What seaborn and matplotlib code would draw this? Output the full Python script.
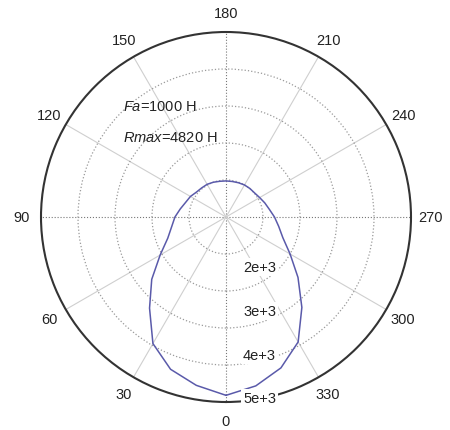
import numpy as np
import pandas as pd
import matplotlib
matplotlib.use("Agg")
import matplotlib.pyplot as plt
import seaborn as sns

# ---- data ----
angles_deg = [0, 10, 20, 30, 40, 50, 60, 70, 80, 90, 100, 110, 120, 130, 140, 150, 160, 170,
              180, 190, 200, 210, 220, 230, 240, 250, 260, 270, 280, 290, 300, 310, 320, 330,
              340, 350, 360]
radius = [4820, 4620, 4380, 3950, 3215, 2620, 2055, 1675, 1490, 1380, 1255, 1160, 1110, 1045,
          1025, 1020, 1000, 980, 975, 975, 985, 1000, 1005, 1010, 1050, 1115, 1190, 1310,
          1445, 1635, 2000, 2540, 3190, 3900, 4340, 4635, 4820]
theta_ticks = [0, 30, 60, 90, 120, 150, 180, 210, 240, 270, 300, 330]
r_ticks = [1000, 2000, 3000, 4000]
r_max = 5000
r_labels = ["2e+3", "3e+3", "4e+3", "5e+3"]
note_fa = r"$\mathit{Fa}$=1000 H"
note_rmax = r"$\mathit{Rmax}$=4820 H"

sns.set_theme(style="white")
plt.rcParams["font.family"] = ["Liberation Sans", "DejaVu Sans"]
plt.rcParams["mathtext.fontset"] = "custom"
plt.rcParams["mathtext.rm"] = "Liberation Sans"
plt.rcParams["mathtext.it"] = "Liberation Sans:italic"

df = pd.DataFrame({"theta": np.deg2rad(angles_deg), "r": radius})

fig = plt.figure(figsize=(4.5, 4.31), dpi=100)
ax = fig.add_axes([41 / 450, 28 / 431, 370 / 450, 370 / 431], projection="polar")
ax.set_theta_zero_location("S")
ax.set_theta_direction(-1)
ax.set_facecolor("white")

sns.lineplot(data=df, x="theta", y="r", ax=ax, sort=False, estimator=None,
             color="#5a5aaa", linewidth=1.1, zorder=4)

ax.set_ylim(0, r_max)
ax.set_yticks(r_ticks)
ax.set_yticklabels([])
ax.set_xticks(np.deg2rad(theta_ticks))
ax.set_xticklabels([])
ax.set_xlabel("")
ax.set_ylabel("")

# angle labels placed just outside the outer circle
for t in theta_ticks:
    ax.text(np.deg2rad(t), r_max * 1.105, str(t), ha="center", va="center",
            fontsize=10.5, color="#222222", clip_on=False)

ax.grid(True)
for t, gl in zip(theta_ticks, ax.xaxis.get_gridlines()):
    if t % 90 == 0:
        gl.set_linestyle(":")
        gl.set_color("#777777")
        gl.set_linewidth(0.8)
    else:
        gl.set_linestyle("-")
        gl.set_color("#cfcfcf")
        gl.set_linewidth(0.8)
for gl in ax.yaxis.get_gridlines():
    gl.set_linestyle(":")
    gl.set_color("#9a9a9a")
    gl.set_linewidth(0.9)

ax.spines["polar"].set_color("#333333")
ax.spines["polar"].set_linewidth(1.5)

# ring labels
label_y = [268, 312, 356, 399]
for lab, yp in zip(r_labels, label_y):
    ax.text((243 - 41) / 370, (403 - yp) / 370, lab, transform=ax.transAxes,
            ha="left", va="center", fontsize=10.5, color="#222222", zorder=6,
            bbox=dict(facecolor="white", edgecolor="none", pad=1.5))

ax.text((123 - 41) / 370, (403 - 107) / 370, note_fa, transform=ax.transAxes,
        ha="left", va="center", fontsize=10.5, color="#222222")
ax.text((123 - 41) / 370, (403 - 138) / 370, note_rmax, transform=ax.transAxes,
        ha="left", va="center", fontsize=10.5, color="#222222")

fig.savefig("out.png", dpi=100, facecolor="white")
